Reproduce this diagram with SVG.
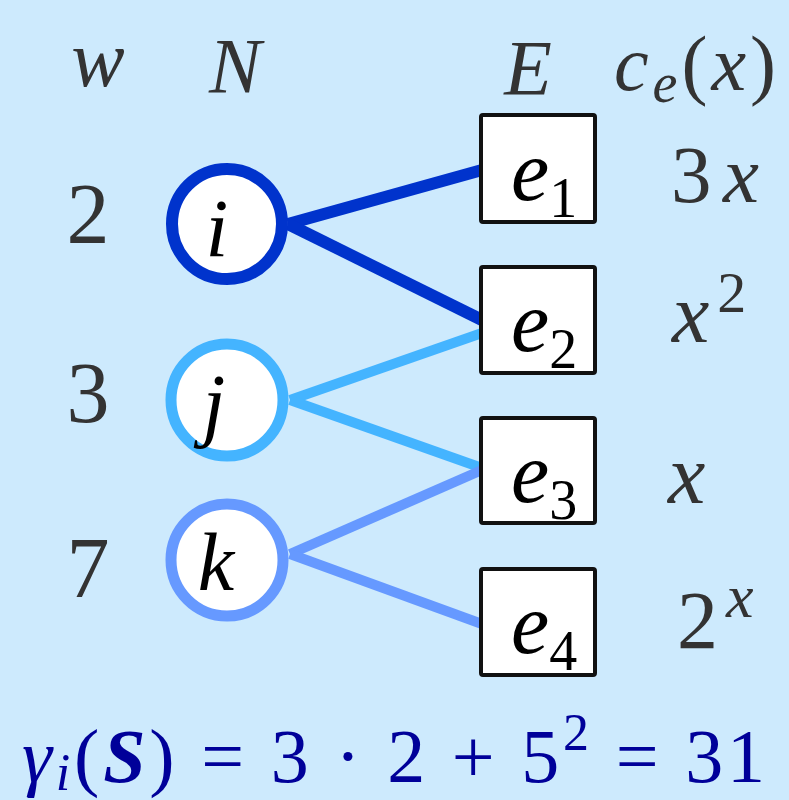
<svg xmlns="http://www.w3.org/2000/svg" width="789" height="800" viewBox="0 0 789 800">
<style>
.t{font-family:"Liberation Serif","DejaVu Serif",serif;fill:#333333}
.it{font-style:italic}
.node{fill:#ffffff}
.box{fill:#ffffff;stroke:#111111;stroke-width:4}
.lbl{font-family:"Liberation Serif","DejaVu Serif",serif;font-style:italic;fill:#000000}
.f{font-family:"Liberation Serif","DejaVu Serif",serif;fill:#000099}
</style>
<rect width="789" height="800" fill="#cdeafd"/>
<g id="headers">
<text class="t it" x="98" y="86" font-size="80" text-anchor="middle">w</text>
<text class="t it" x="235" y="92" font-size="78" text-anchor="middle">N</text>
<text class="t it" x="528" y="94" font-size="78" text-anchor="middle">E</text>
<text class="t it" x="614" y="90" font-size="78" textLength="162" lengthAdjust="spacing">c<tspan font-size="56" dy="12">e</tspan><tspan font-style="normal" dy="-12">(</tspan>x<tspan font-style="normal">)</tspan></text>
</g>
<g id="weights">
<text class="t" x="88" y="243" font-size="86" text-anchor="middle">2</text>
<text class="t" x="88" y="422" font-size="86" text-anchor="middle">3</text>
<text class="t" x="88" y="597" font-size="86" text-anchor="middle">7</text>
</g>
<g id="connectors" fill="none" stroke-linecap="butt">
<line x1="288" y1="224" x2="482" y2="170" stroke="#0033cc" stroke-width="12"/>
<line x1="288" y1="224" x2="482" y2="320" stroke="#0033cc" stroke-width="12"/>
<line x1="290" y1="400" x2="482" y2="333" stroke="#44b4ff" stroke-width="10"/>
<line x1="290" y1="400" x2="482" y2="468" stroke="#44b4ff" stroke-width="10"/>
<line x1="290" y1="554" x2="482" y2="470" stroke="#6699ff" stroke-width="10"/>
<line x1="290" y1="554" x2="482" y2="624" stroke="#6699ff" stroke-width="10"/>
</g>
<g id="node-i">
<circle class="node" cx="227" cy="224" r="55" stroke="#0033cc" stroke-width="12"/>
<text class="lbl" x="217" y="256" font-size="82" text-anchor="middle">i</text>
</g>
<g id="node-j">
<circle class="node" cx="227" cy="400" r="56" stroke="#44b4ff" stroke-width="11"/>
<text class="lbl" x="214" y="431" font-size="82" text-anchor="middle">j</text>
</g>
<g id="node-k">
<circle class="node" cx="227" cy="560" r="56" stroke="#6699ff" stroke-width="11"/>
<text class="lbl" x="216" y="590" font-size="82" text-anchor="middle">k</text>
</g>
<g id="edge-e1">
<rect class="box" x="481" y="115" width="114" height="107" rx="2"/>
<text class="lbl" x="511" y="200" font-size="86">e<tspan font-style="normal" font-size="56" dy="17">1</tspan></text>
</g>
<g id="edge-e2">
<rect class="box" x="481" y="267" width="114" height="106" rx="2"/>
<text class="lbl" x="511" y="351" font-size="86">e<tspan font-style="normal" font-size="56" dy="17">2</tspan></text>
</g>
<g id="edge-e3">
<rect class="box" x="481" y="418" width="114" height="105" rx="2"/>
<text class="lbl" x="511" y="502" font-size="86">e<tspan font-style="normal" font-size="56" dy="17">3</tspan></text>
</g>
<g id="edge-e4">
<rect class="box" x="481" y="569" width="114" height="106" rx="2"/>
<text class="lbl" x="511" y="653" font-size="86">e<tspan font-style="normal" font-size="56" dy="17">4</tspan></text>
</g>
<g id="costs">
<text class="t" x="671" y="202" font-size="81" textLength="88" lengthAdjust="spacing">3<tspan font-style="italic">x</tspan></text>
<text class="t it" x="672" y="342" font-size="84">x<tspan font-style="normal" font-size="58" dx="8" dy="-30">2</tspan></text>
<text class="t it" x="668" y="503" font-size="84">x</text>
<text class="t" x="677" y="648" font-size="82">2<tspan font-style="italic" font-size="62" dx="8" dy="-31">x</tspan></text>
</g>
<g id="formula">
<text class="f" x="22" y="782" font-size="76" textLength="743" lengthAdjust="spacing"><tspan font-style="italic">γ</tspan><tspan font-style="italic" font-size="52" dy="8">i</tspan><tspan dy="-8">(</tspan><tspan font-style="italic" font-weight="bold">S</tspan>) = 3 · 2 + 5<tspan font-size="52" dy="-32">2</tspan><tspan dy="32"> = 31</tspan></text>
</g>
</svg>
